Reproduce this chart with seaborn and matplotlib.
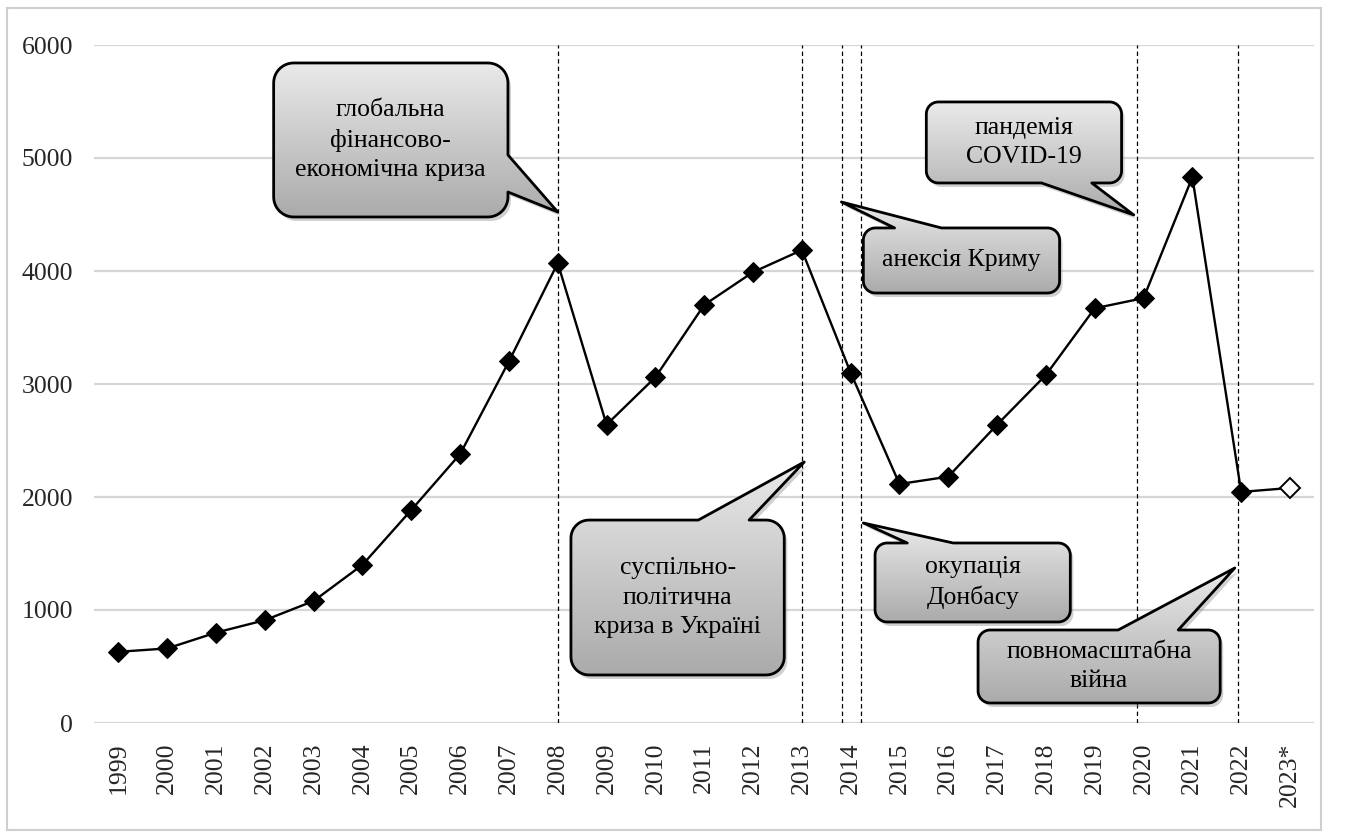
import numpy as np
import matplotlib
matplotlib.use("Agg")
import matplotlib.pyplot as plt
import seaborn as sns
from matplotlib.patches import Polygon, Rectangle
from matplotlib.colors import LinearSegmentedColormap

# data
years = ['1999', '2000', '2001', '2002', '2003', '2004', '2005', '2006', '2007', '2008',
         '2009', '2010', '2011', '2012', '2013', '2014', '2015', '2016', '2017', '2018',
         '2019', '2020', '2021', '2022', '2023*']
values = [630, 660, 800, 910, 1080, 1400, 1885, 2380, 3200, 4070,
          2640, 3060, 3700, 3990, 4185, 3100, 2115, 2180, 2640, 3080,
          3670, 3760, 4830, 2045, 2080]

# event markers (position on the year axis)
event_lines = [9, 14, 14.83, 15.22, 20.87, 22.93]

# callouts: text, box (x0, x1, y0, y1), wedge side, wedge base, wedge tip
callouts = [
    ('глобальна\nфінансово-\nекономічна криза', (3.18, 7.98, 4478, 5841), 'right', (4699, 5027), (9.0, 4522), 20),
    ('суспільно-\nполітична\nкриза в Україні', (9.27, 13.64, 425, 1796), 'top', (11.88, 12.92), (14.05, 2310), 18),
    ('анексія Криму', (15.26, 19.28, 3805, 4381), 'top', (15.9, 16.86), (14.81, 4611), 12),
    ('пандемія\nCOVID-19', (16.55, 20.55, 4779, 5496), 'bottom', (18.91, 19.94), (20.8, 4496), 12),
    ('окупація\nДонбасу', (15.5, 19.5, 894, 1593), 'top', (16.16, 17.1), (15.26, 1770), 12),
    ('повномасштабна\nвійна', (17.61, 22.57, 177, 823), 'top', (20.48, 21.71), (22.87, 1372), 12),
]

sns.set_theme(style="white")
plt.rcParams['font.family'] = ['Liberation Serif', 'DejaVu Serif']

fig = plt.figure(figsize=(13.47, 8.34), dpi=100)
ax = fig.add_axes([94 / 1347, 1 - 723 / 834, 1220.4 / 1347, 678 / 834])

XMIN, XMAX, YMIN, YMAX = -0.5, 24.5, 0, 6000
px_x = 1220.4 / (XMAX - XMIN)
px_y = 678 / (YMAX - YMIN)

for g in range(0, 7000, 1000):
    ax.axhline(g, color='#d6d6d6', lw=1.6, zorder=0)

for e in event_lines:
    ax.axvline(e, color='black', lw=0.9, ls=(0, (3.5, 2.5)), zorder=2)

idx = np.arange(len(years))
sns.lineplot(x=idx[:-1], y=values[:-1], color='black', lw=1.7, marker='D',
             markersize=10.5, markeredgecolor='black', ax=ax, zorder=3)
sns.lineplot(x=idx[-2:], y=values[-2:], color='black', lw=1.7, ax=ax, zorder=3)
ax.plot(idx[-1:], values[-1:], marker='D', markersize=10, markerfacecolor='white',
        markeredgecolor='black', markeredgewidth=1.4, ls='none', zorder=4)

grad = LinearSegmentedColormap.from_list('g', ['#eaeaea', '#cacaca', '#ababab'])


def callout_points(x0, x1, y0, y1, side, base, tip, r):
    rx, ry = r / px_x, r / px_y
    pts = [(x0 + rx, y0)]
    if side == 'bottom':
        pts += [(base[0], y0), tip, (base[1], y0)]

    def arc(cx, cy, a0, a1):
        t = np.radians(np.linspace(a0, a1, 12))
        return list(zip(cx + rx * np.cos(t), cy + ry * np.sin(t)))

    pts += arc(x1 - rx, y0 + ry, -90, 0)
    if side == 'right':
        pts += [(x1, base[0]), tip, (x1, base[1])]
    pts += arc(x1 - rx, y1 - ry, 0, 90)
    if side == 'top':
        pts += [(base[1], y1), tip, (base[0], y1)]
    pts += arc(x0 + rx, y1 - ry, 90, 180)
    pts += arc(x0 + rx, y0 + ry, 180, 270)
    return np.array(pts)


for text, (x0, x1, y0, y1), side, base, tip, r in callouts:
    pts = callout_points(x0, x1, y0, y1, side, base, tip, r)
    shadow = pts + np.array([3 / px_x, -4 / px_y])
    ax.add_patch(Polygon(shadow, closed=True, fc='#7a7a7a', ec='none', alpha=0.35, zorder=5))
    clip = Polygon(pts, closed=True, fc='none', ec='none', zorder=6)
    ax.add_patch(clip)
    im = ax.imshow(np.linspace(0, 1, 100).reshape(-1, 1), cmap=grad, aspect='auto',
                   extent=(pts[:, 0].min(), pts[:, 0].max(), pts[:, 1].min(), pts[:, 1].max()),
                   origin='upper', zorder=6, interpolation='bilinear')
    im.set_clip_path(clip)
    ax.add_patch(Polygon(pts, closed=True, fc='none', ec='black', lw=2.0,
                         joinstyle='round', zorder=7))
    ax.text((x0 + x1) / 2, (y0 + y1) / 2, text, ha='center', va='center',
            fontsize=18.5, color='black', zorder=8, linespacing=1.45)

ax.set_xlim(XMIN, XMAX)
ax.set_ylim(YMIN, YMAX)
ax.set_xticks(idx)
ax.set_xticklabels(years, rotation=90, fontsize=18.5)
ax.set_yticks(range(0, 7000, 1000))
ax.set_yticklabels([str(v) for v in range(0, 7000, 1000)], fontsize=18.5)
ax.tick_params(axis='x', length=0, pad=14)
ax.tick_params(axis='y', length=0, pad=15)
ax.set_xlabel('')
ax.set_ylabel('')
sns.despine(ax=ax, left=True, bottom=True)

# light frame around the picture
fig.patches.append(Rectangle((7 / 1347, 4 / 834), 1314 / 1347, 822 / 834,
                             transform=fig.transFigure, fill=False,
                             ec='#cfcfcf', lw=1.5))

fig.savefig('out.png', dpi=100)
